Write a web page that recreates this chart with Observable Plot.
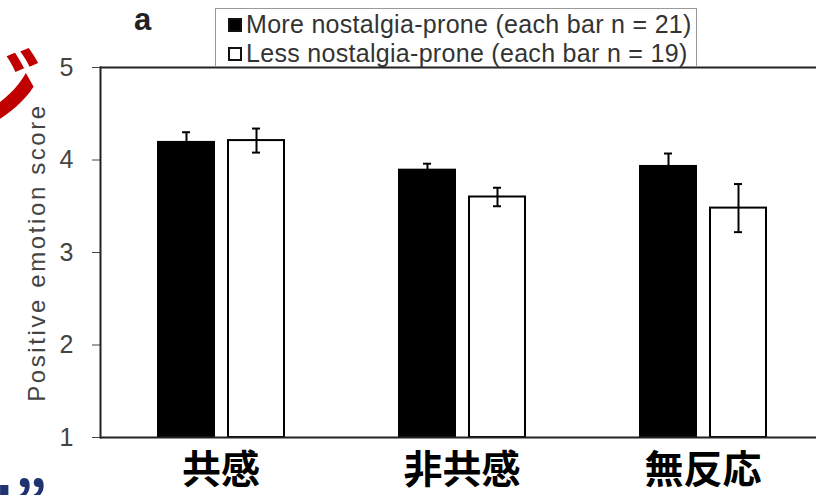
<!DOCTYPE html>
<html><head><meta charset="utf-8">
<script src="https://cdn.jsdelivr.net/npm/d3@7"></script>
<script src="https://cdn.jsdelivr.net/npm/@observablehq/plot@0.6"></script>
<style>
body{margin:0;background:#fff;}
#wrap{position:relative;width:816px;height:495px;overflow:hidden;font-family:"Liberation Sans",Arial,sans-serif;}
#legend{position:absolute;left:215px;top:8px;width:482px;height:58px;border:1.5px solid #9a9a9a;border-bottom:none;box-sizing:border-box;background:#fff;font-size:25px;letter-spacing:0.3px;color:#333;line-height:29px;padding-top:1px;padding-left:12px;}
#legend .row{display:flex;align-items:center;white-space:nowrap;}
#legend .sw{width:14px;height:14px;box-sizing:border-box;border:2px solid #111;margin-right:4px;flex:none;}
#panel{position:absolute;left:134px;top:2px;font-size:31px;font-weight:bold;color:#222;}
#frag1{position:absolute;left:-58px;top:37px;font-size:100px;line-height:1;font-weight:bold;color:#c00000;font-family:"Noto Sans CJK JP",sans-serif;}
#frag2{position:absolute;left:-5px;top:474px;font-size:56px;line-height:1;font-weight:bold;color:#1f3370;font-family:"Noto Sans CJK JP",sans-serif;}
#frag3{position:absolute;left:15px;top:470px;font-size:56px;line-height:1;font-weight:bold;color:#1f3370;font-family:"Noto Sans CJK JP",sans-serif;}
svg [aria-label="y-axis label"] text{letter-spacing:2.6px;font-size:24px;fill:#444;}
svg [aria-label="y-axis tick label"] text{font-size:25px;}
svg [aria-label="fx-axis tick label"] text{font-weight:bold;}
</style></head><body>
<div id="wrap"></div>
<script>
const categories = ["共感", "非共感", "無反応"];
const groups = ["More", "Less"];
const legendLabels = ["More nostalgia-prone (each bar n = 21)", "Less nostalgia-prone (each bar n = 19)"];
const groupFills = ["#000000", "#ffffff"];
const moreMeans = [4.19, 3.89, 3.93];
const moreSE = [0.11, 0.07, 0.14];
const lessMeans = [4.21, 3.60, 3.48];
const lessSE = [0.13, 0.10, 0.26];
const yTicks = [1, 2, 3, 4, 5];
const yLabel = "Positive emotion score";
const panelLabel = "a";

const data = [];
categories.forEach((c, i) => {
  data.push({category: c, group: groups[0], mean: moreMeans[i], se: moreSE[i]});
  data.push({category: c, group: groups[1], mean: lessMeans[i], se: lessSE[i]});
});
const yMin = yTicks[0], yMax = yTicks[yTicks.length - 1];

const plot = Plot.plot({
  width: 816, height: 495,
  marginLeft: 100, marginRight: 0, marginTop: 67, marginBottom: 58,
  style: {fontFamily: '"Liberation Sans", Arial, sans-serif', background: "white", overflow: "hidden"},
  fx: {domain: categories, range: [100, 823], padding: 0, label: null},
  x: {domain: groups, paddingInner: 0.2, paddingOuter: 0.82, axis: null},
  y: {domain: [yMin, yMax], axis: null},
  color: {domain: groups, range: groupFills},
  marks: [
    Plot.barY(data, {fx: "category", x: "group", y1: yMin, y2: "mean", fill: "group", stroke: "#000", strokeWidth: 2}),
    Plot.ruleX(data, {fx: "category", x: "group", y1: d => d.mean - d.se, y2: d => d.mean + d.se, stroke: "#000", strokeWidth: 2}),
    Plot.tickY(data, {fx: "category", x: "group", y: d => d.mean + d.se, insetLeft: 24, insetRight: 24, stroke: "#000", strokeWidth: 2}),
    Plot.tickY(data, {fx: "category", x: "group", y: d => d.mean - d.se, insetLeft: 24, insetRight: 24, stroke: "#000", strokeWidth: 2}),
    Plot.ruleY([yMax], {stroke: "#222", strokeWidth: 2}),
    Plot.ruleY([yMin], {stroke: "#222", strokeWidth: 2}),
    Plot.axisY({ticks: yTicks, tickFormat: "d", tickSize: 8, tickPadding: 19, fontSize: 25, color: "#444", label: yLabel, labelAnchor: "center", labelArrow: "none", labelOffset: 73}),
    Plot.frame({anchor: "left", facetAnchor: "left", stroke: "#222", strokeWidth: 2}),
    Plot.axisFx({anchor: "bottom", tickSize: 0, tickPadding: 18, fontSize: 39, fontWeight: "bold", color: "#000", label: null, fontFamily: '"Noto Sans CJK JP", sans-serif'})
  ]
});

const wrap = document.getElementById("wrap");
wrap.appendChild(plot);

const frag1 = document.createElement("div"); frag1.id = "frag1"; frag1.textContent = "ジ"; wrap.appendChild(frag1);
const frag2 = document.createElement("div"); frag2.id = "frag2"; frag2.textContent = "I"; wrap.appendChild(frag2);
const frag3 = document.createElement("div"); frag3.id = "frag3"; frag3.textContent = "”"; wrap.appendChild(frag3);

const panel = document.createElement("div"); panel.id = "panel"; panel.textContent = panelLabel; wrap.appendChild(panel);

const legend = document.createElement("div"); legend.id = "legend";
legendLabels.forEach((lab, i) => {
  const row = document.createElement("div"); row.className = "row";
  const sw = document.createElement("span"); sw.className = "sw"; sw.style.background = groupFills[i];
  const t = document.createElement("span"); t.textContent = lab;
  row.appendChild(sw); row.appendChild(t); legend.appendChild(row);
});
wrap.appendChild(legend);
</script>
</body></html>
